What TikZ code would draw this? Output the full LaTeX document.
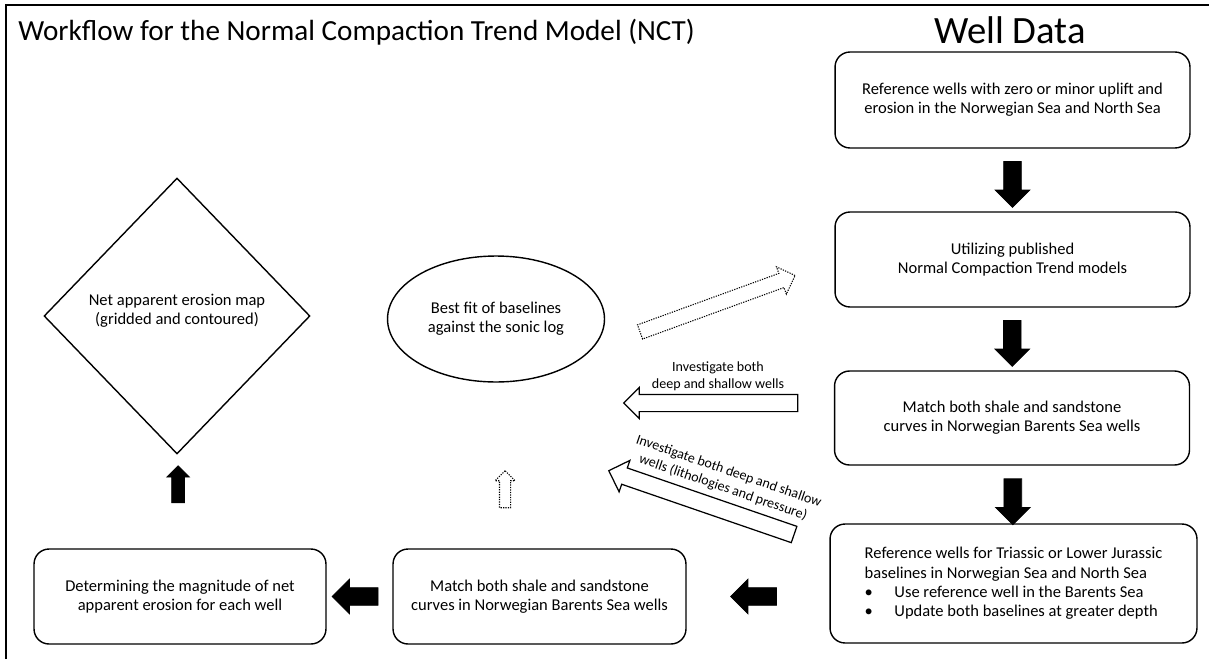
\documentclass[tikz,border=0pt]{standalone}
\usepackage{fontspec}
\setmainfont{Carlito}
\usetikzlibrary{shapes.geometric,shapes.arrows,calc}

\tikzset{
  wellbox/.style={draw, line width=0.8pt, rounded corners=0.3cm, align=center,
    font=\fontsize{9.4}{11}\selectfont, minimum width=7.1cm, minimum height=1.9cm, inner sep=0pt},
  blkarrow/.style={single arrow, draw=black, fill=black, inner xsep=0pt, inner ysep=0.17cm,
    minimum height=0.92cm, minimum width=0.68cm, single arrow head extend=0.17cm},
  hollowarrow/.style={single arrow, draw=black, line width=0.7pt, fill=white, inner xsep=0pt},
  dotarrow/.style={hollowarrow, line width=0.6pt, dash pattern=on 0.7pt off 0.7pt},
  lbl/.style={font=\fontsize{8}{9.8}\selectfont, align=center, inner sep=0pt}
}

\begin{document}
\begin{tikzpicture}[x=0.02cm, y=-0.02cm]
\useasboundingbox (0,0) rectangle (1209,659);
\draw[line width=1.1pt] (6,659) -- (6,5) -- (1209,5); % frame

\node[anchor=west, font=\fontsize{16.6}{19}\selectfont, inner sep=0pt] (title) at (18,32) {Workflow for the Normal Compaction Trend Model (NCT)};
\node[font=\fontsize{22}{25}\selectfont, inner sep=0pt] (welldata) at (1010,30) {Well Data};

% right column
\node[wellbox, minimum height=1.92cm] (ref) at (1012.5,100) {Reference wells with zero or minor uplift and\\erosion in the Norwegian Sea and North Sea};
\node[wellbox] (nct) at (1012.5,259.5) {Utilizing published\\Normal Compaction Trend models};
\node[wellbox, minimum height=1.88cm] (match) at (1012,418) {Match both shale and sandstone\\curves in Norwegian Barents Sea wells};
\node[wellbox, minimum width=7.34cm, minimum height=2.38cm, align=left] (basel) at (1013.5,583.5) {Reference wells for Triassic or Lower Jurassic\\baselines in Norwegian Sea and North Sea\\\textbullet\hspace{1.3em}Use reference well in the Barents Sea\\\textbullet\hspace{1.3em}Update both baselines at greater depth};

% bottom row
\node[wellbox, minimum width=5.86cm] (matchb) at (539.5,596.5) {Match both shale and sandstone\\curves in Norwegian Barents Sea wells};
\node[wellbox, minimum width=5.84cm] (magn) at (180,596.5) {Determining the magnitude of net\\apparent erosion for each well};

% left part
\node[diamond, draw, line width=0.8pt, inner sep=0pt, minimum width=5.32cm, minimum height=5.52cm] (map) at (177,316) {};
\node[align=center, font=\fontsize{9.4}{11}\selectfont] (maptext) at (177,311) {Net apparent erosion map\\(gridded and contoured)};
\node[ellipse, draw, line width=0.8pt, inner sep=0pt, minimum width=4.34cm, minimum height=2.52cm, align=center, font=\fontsize{9.4}{11}\selectfont] (fit) at (496,319) {Best fit of baselines\\against the sonic log};

% black arrows
\node[blkarrow, rotate=-90] (a1) at ($(ref.south)!.5!(nct.north)$) {};
\node[blkarrow, rotate=-90] (a2) at ($(nct.south)!.5!(match.north)$) {};
\node[blkarrow, rotate=-90] (a3) at ($(match.south)!.55!(basel.north)$) {};
\node[blkarrow, rotate=180] (a4) at ($(matchb.east)!.5!(matchb.east -| basel.west)$) {};
\node[blkarrow, rotate=180] (a5) at ($(magn.east)!.5!(matchb.west)$) {};
\node[blkarrow, rotate=90, minimum height=0.74cm, minimum width=0.44cm, inner ysep=0.12cm, single arrow head extend=0.1cm] (a6) at ($(map.south)!.35!(magn.north)$) {};

% hollow arrows
\node[dotarrow, rotate=90, minimum height=0.74cm, minimum width=0.38cm, inner ysep=0.1cm, single arrow head extend=0.09cm] (a7) at (505,492) {};
\node[dotarrow, rotate=20, minimum height=3.3cm, minimum width=0.56cm, inner ysep=0.14cm, single arrow head extend=0.14cm] (a8) at (714,305) {};
\node[hollowarrow, rotate=180, minimum height=3.48cm, minimum width=0.6cm, inner ysep=0.16cm, single arrow head extend=0.14cm] (a9) at (715,403) {};
\node[hollowarrow, rotate=161, minimum height=3.92cm, minimum width=0.64cm, inner ysep=0.16cm, single arrow head extend=0.16cm] (a10) at (705.5,504) {};

\node[lbl] (l1) at (718,376) {Investigate both\\deep and shallow wells};
\node[lbl, rotate=-19, anchor=south] (l2) at (721,494) {Investigate both deep and shallow\\wells (lithologies and pressure)};
\end{tikzpicture}
\end{document}
